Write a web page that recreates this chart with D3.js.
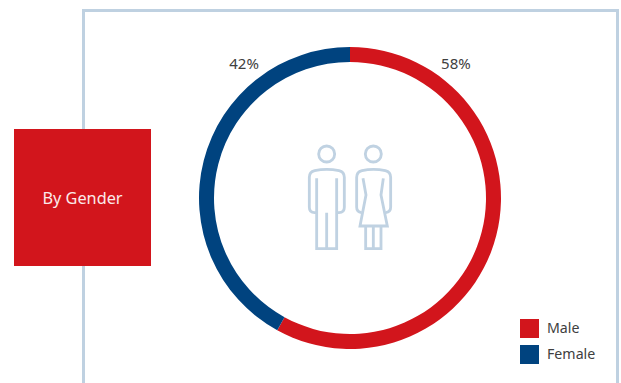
<!DOCTYPE html>
<html>
<head>
<meta charset="utf-8">
<script src="https://cdnjs.cloudflare.com/ajax/libs/d3/7.8.5/d3.min.js"></script>
<style>
  html, body { margin: 0; padding: 0; background: #fff; }
  svg { display: block; }
  text { font-family: "Noto Sans", sans-serif; fill: #404040; }
</style>
</head>
<body>
<svg id="chart" width="621" height="383"></svg>
<script>
// Gender split
const categories = ["Male", "Female"];
const shares = [58, 42];
const colours = ["#d2151c", "#00437f"];
const heading = "By Gender";

const svg = d3.select("#chart");
const colour = d3.scaleOrdinal().domain(categories).range(colours);

// Panel frame, open at the bottom edge
svg.append("path")
  .attr("d", d3.line()([[83.5, 383], [83.5, 10.5], [617.5, 10.5], [617.5, 383]]))
  .attr("fill", "none")
  .attr("stroke", "#bfd1e1")
  .attr("stroke-width", 3);

// Heading block
svg.append("rect")
  .attr("x", 14).attr("y", 129)
  .attr("width", 137).attr("height", 137)
  .attr("fill", colours[0]);
svg.append("text")
  .attr("x", 82.5).attr("y", 198.3)
  .attr("dy", "0.35em")
  .attr("text-anchor", "middle")
  .attr("font-size", 16.3)
  .style("fill", "#fbeaea")
  .text(heading);

// Donut
const cx = 350, cy = 198;
const pie = d3.pie().sort(null).value(d => d.share);
const arc = d3.arc().innerRadius(136).outerRadius(151);
const rows = categories.map((name, i) => ({ name, share: shares[i] }));
const donut = svg.append("g").attr("transform", `translate(${cx},${cy})`);
donut.selectAll("path")
  .data(pie(rows))
  .join("path")
  .attr("d", arc)
  .attr("fill", d => colour(d.data.name));

// Share labels sit just outside the ring, either side of the top
const labelAngle = d3.scaleOrdinal().domain(categories).range([0.668, -0.668]);
const labelRadius = 171;
donut.selectAll("text")
  .data(rows)
  .join("text")
  .attr("x", d => labelRadius * Math.sin(labelAngle(d.name)))
  .attr("y", d => -labelRadius * Math.cos(labelAngle(d.name)))
  .attr("dy", "0.35em")
  .attr("text-anchor", "middle")
  .attr("font-size", 15)
  .text(d => d.share + "%");

// Figures in the middle of the ring
const figures = svg.append("g")
  .attr("transform", "translate(290,130) scale(0.3333)")
  .attr("fill", "none")
  .attr("stroke", "#c0d2e2")
  .attr("stroke-width", 8.5)
  .attr("stroke-linejoin", "miter");
figures.append("circle").attr("cx", 110).attr("cy", 72).attr("r", 24);
figures.append("circle").attr("cx", 250).attr("cy", 72).attr("r", 24);
[
  "M80 248H74Q58 248 58 232V142Q58 126 74 122Q110 114 147 122Q163 126 163 142V232Q163 248 147 248H140",
  "M80 145V356H140V145M110 248V356",
  "M215 248Q200 246 200 232V142Q200 126 216 122Q250 114 286 122Q302 126 302 142V232Q302 246 287 248",
  "M219 145L228 195L210 288H292L273 195L280 145",
  "M227 288V356H273V288M250 288V356"
].forEach(d => figures.append("path").attr("d", d));

// Legend
const legendRow = d3.scaleOrdinal().domain(categories).range([319, 345]);
const legend = svg.append("g");
legend.selectAll("rect")
  .data(categories)
  .join("rect")
  .attr("x", 520)
  .attr("y", d => legendRow(d))
  .attr("width", 19).attr("height", 19)
  .attr("fill", d => colour(d));
legend.selectAll("text")
  .data(categories)
  .join("text")
  .attr("x", 547)
  .attr("y", d => legendRow(d) + 9.5)
  .attr("dy", "0.35em")
  .attr("font-size", 14.2)
  .text(d => d);
</script>
</body>
</html>
